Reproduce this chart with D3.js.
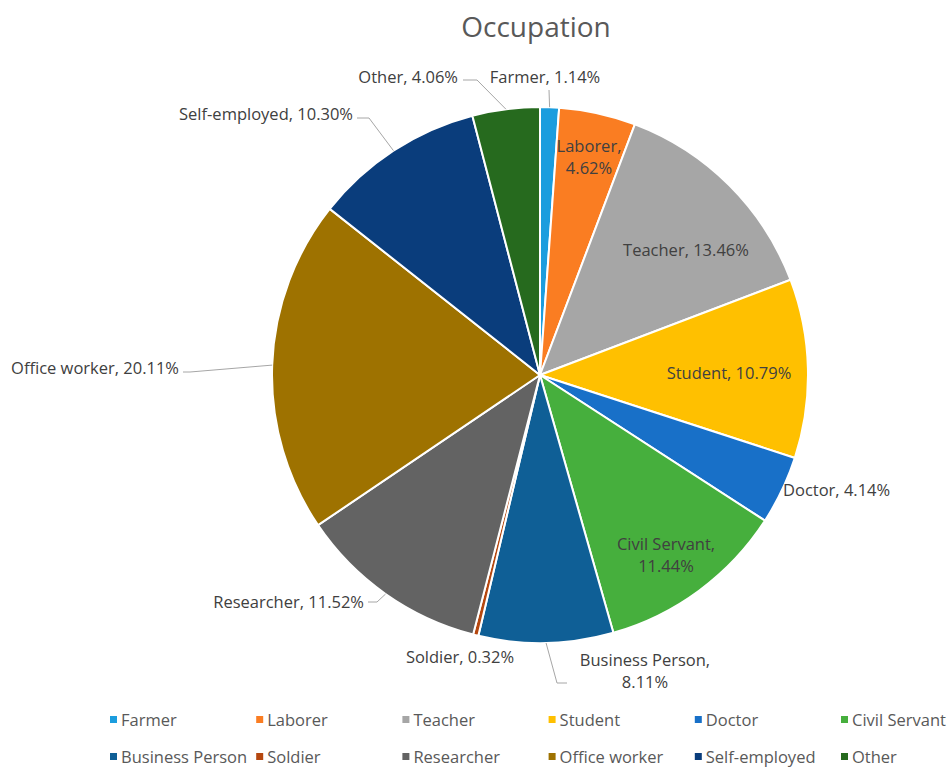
<!DOCTYPE html>
<html>
<head>
<meta charset="utf-8">
<script src="https://cdn.jsdelivr.net/npm/d3@7"></script>
<style>
  body { margin: 0; background: #fff; }
  svg text { font-family: "Open Sans", Lato, sans-serif; }
</style>
</head>
<body>
<div id="chart-area"></div>
<script>
// data
var occupations = ["Farmer", "Laborer", "Teacher", "Student", "Doctor", "Civil Servant",
  "Business Person", "Soldier", "Researcher", "Office worker", "Self-employed", "Other"];
var shares = [1.14, 4.62, 13.46, 10.79, 4.14, 11.44, 8.11, 0.32, 11.52, 20.11, 10.30, 4.06];
var colors = ["#1B9DDE", "#FA7D22", "#A6A6A6", "#FFC000", "#1870C8", "#46AF3D",
  "#0F5F96", "#B5470F", "#636363", "#9E7200", "#0A3D7C", "#266A1E"];

var width = 952,
	height = 770;
var cx = 540, cy = 375, radius = 268;

// where each label sits (lines of text, anchor, position, optional elbow for leader)
var labelLayout = {
  "Farmer":          {x: 545, y: 83,  anchor: "middle", lines: 1, elbow: [549, 90]},
  "Laborer":         {x: 589, y: 152, anchor: "middle", lines: 2},
  "Teacher":         {x: 686, y: 256, anchor: "middle", lines: 1},
  "Student":         {x: 729, y: 379, anchor: "middle", lines: 1},
  "Doctor":          {x: 783, y: 496, anchor: "start",  lines: 1},
  "Civil Servant":   {x: 666, y: 550, anchor: "middle", lines: 2},
  "Business Person": {x: 645, y: 666, anchor: "middle", lines: 2, elbow: [557, 683], end: [567, 683]},
  "Soldier":         {x: 460, y: 663, anchor: "middle", lines: 1},
  "Researcher":      {x: 364, y: 608, anchor: "end",    lines: 1, elbow: [377, 602], end: [368, 602]},
  "Office worker":   {x: 179, y: 374, anchor: "end",    lines: 1, elbow: [190, 372], end: [183, 372]},
  "Self-employed":   {x: 353, y: 120, anchor: "end",    lines: 1, elbow: [369, 118], end: [357, 118]},
  "Other":           {x: 458, y: 83,  anchor: "end",    lines: 1, elbow: [477, 80],  end: [463, 80]}
};

var data = occupations.map(function(d, i) {
  return {name: d, value: shares[i], color: colors[i]};
});

var svg = d3.select("#chart-area").append("svg")
	.attr("width", width).attr("height", height);

svg.append("text")
  .attr("x", 536).attr("y", 37)
  .attr("text-anchor", "middle")
  .attr("fill", "#595959")
  .style("font-size", "28px")
  .text("Occupation");

var pie = d3.pie().sort(null).value(function(d) { return d.value; });
var arc = d3.arc().innerRadius(0).outerRadius(radius);
var arcs = pie(data);

var g = svg.append("g").attr("transform", "translate(" + cx + "," + cy + ")");

g.selectAll("path.slice")
  .data(arcs)
  .enter()
  .append("path")
  .attr("class", "slice")
  .attr("d", arc)
  .attr("fill", function(d) { return d.data.color; })
  .attr("stroke", "#fff")
  .attr("stroke-width", 2);

// leader lines
var edge = function(d) {
  var a = (d.startAngle + d.endAngle) / 2;
  return [cx + radius * Math.sin(a), cy - radius * Math.cos(a)];
};
arcs.forEach(function(d) {
  var L = labelLayout[d.data.name];
  if (!L.elbow) return;
  var p = edge(d);
  var pts = [p, L.elbow];
  if (L.end) pts.push(L.end);
  svg.append("path")
    .attr("d", d3.line()(pts))
    .attr("fill", "none")
    .attr("stroke", "#a6a6a6")
    .attr("stroke-width", 1);
});

// labels
arcs.forEach(function(d) {
  var L = labelLayout[d.data.name];
  var pct = d.data.value.toFixed(2) + "%";
  var t = svg.append("text")
    .attr("text-anchor", L.anchor)
    .attr("fill", "#404040")
    .style("font-size", "16.5px");
  if (L.lines == 2) {
    t.append("tspan").attr("x", L.x).attr("y", L.y).text(d.data.name + ",");
    t.append("tspan").attr("x", L.x).attr("y", L.y + 22).text(pct);
  } else {
    t.attr("x", L.x).attr("y", L.y).text(d.data.name + ", " + pct);
  }
});

// legend
var legendX = d3.scalePoint().domain(d3.range(6)).range([110, 841]);
var legend = svg.selectAll("g.legend")
  .data(data)
  .enter()
  .append("g")
  .attr("class", "legend")
  .attr("transform", function(d, i) {
    return "translate(" + legendX(i % 6) + "," + (i < 6 ? 720 : 757) + ")";
  });
legend.append("rect")
  .attr("x", 0).attr("y", -4)
  .attr("width", 7).attr("height", 7)
  .attr("fill", function(d) { return d.color; });
legend.append("text")
  .attr("x", 11).attr("y", 6)
  .attr("fill", "#595959")
  .style("font-size", "16.5px")
  .text(function(d) { return d.name; });
</script>
</body>
</html>
